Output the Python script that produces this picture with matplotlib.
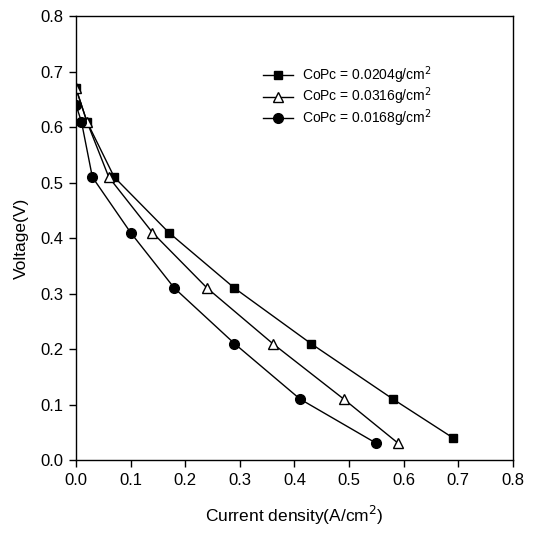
import matplotlib
matplotlib.use("Agg")
import matplotlib.pyplot as plt

plt.rcParams['font.family'] = ['Liberation Sans', 'DejaVu Sans']

# Polarization data: current density (A/cm^2) vs voltage (V)
j_0204 = [0.0, 0.02, 0.07, 0.17, 0.29, 0.43, 0.58, 0.69]
v_0204 = [0.67, 0.61, 0.51, 0.41, 0.31, 0.21, 0.11, 0.04]

j_0316 = [0.0, 0.02, 0.06, 0.14, 0.24, 0.36, 0.49, 0.59]
v_0316 = [0.67, 0.61, 0.51, 0.41, 0.31, 0.21, 0.11, 0.03]

j_0168 = [0.0, 0.01, 0.03, 0.10, 0.18, 0.29, 0.41, 0.55]
v_0168 = [0.64, 0.61, 0.51, 0.41, 0.31, 0.21, 0.11, 0.03]

labels = ['CoPc = 0.0204g/cm$^2$', 'CoPc = 0.0316g/cm$^2$', 'CoPc = 0.0168g/cm$^2$']
x_ticks = [0.0, 0.1, 0.2, 0.3, 0.4, 0.5, 0.6, 0.7, 0.8]
y_ticks = [0.0, 0.1, 0.2, 0.3, 0.4, 0.5, 0.6, 0.7, 0.8]

fig = plt.figure(figsize=(5.4, 5.41), dpi=100)
ax = fig.add_axes([0.1407, 0.1497, 0.8093, 0.8203])

ax.plot(j_0204, v_0204, color='black', lw=1.0, marker='s', ms=6,
        mfc='black', mec='black', label=labels[0])
ax.plot(j_0316, v_0316, color='black', lw=1.0, marker='^', ms=7.5,
        mfc='white', mec='black', mew=1.0, label=labels[1])
ax.plot(j_0168, v_0168, color='black', lw=1.0, marker='o', ms=7,
        mfc='black', mec='black', label=labels[2])

ax.set_xlim(0, 0.8)
ax.set_ylim(0, 0.8)
ax.set_xticks(x_ticks)
ax.set_yticks(y_ticks)
ax.set_xticklabels([f'{t:.1f}' for t in x_ticks])
ax.set_yticklabels([f'{t:.1f}' for t in y_ticks])
ax.tick_params(direction='out', length=5, width=1, labelsize=12, pad=4)
for s in ax.spines.values():
    s.set_linewidth(1.0)

ax.set_xlabel('Current density(A/cm$^2$)', fontsize=12.5, labelpad=12)
ax.set_ylabel('Voltage(V)', fontsize=12.5, labelpad=8)

ax.legend(loc='upper left', bbox_to_anchor=(0.415, 0.905), frameon=False,
          fontsize=10, handlelength=2.2, handletextpad=0.6, labelspacing=0.02,
          borderaxespad=0)

fig.savefig('out.png', dpi=100)
